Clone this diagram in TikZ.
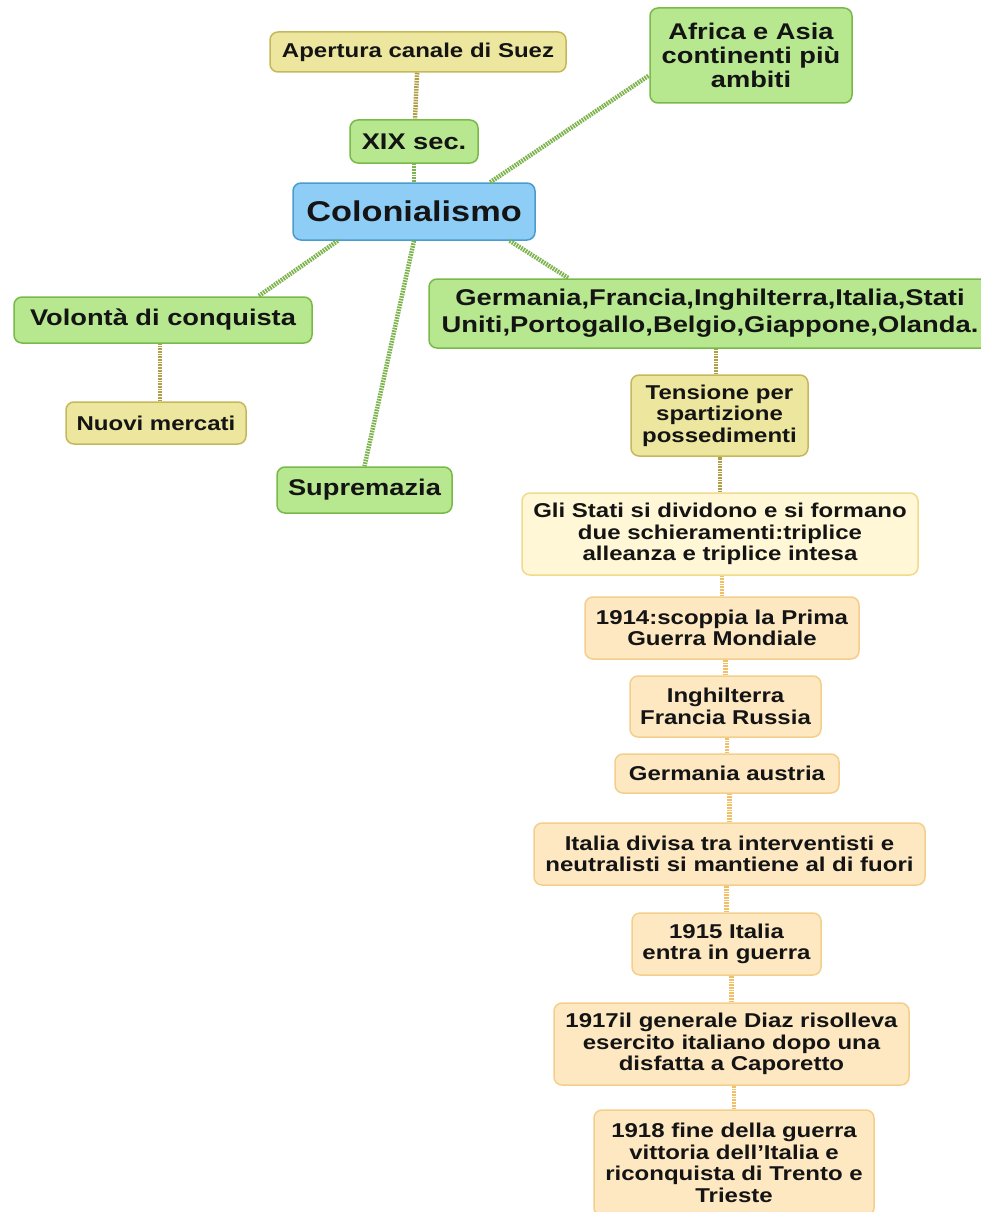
\documentclass[tikz,border=0pt]{standalone}
\usepackage{fontspec}
\setmainfont[FakeStretch=1.2]{Liberation Sans}
\definecolor{greenfill}{HTML}{B7E78E}
\definecolor{greenline}{HTML}{79B94A}
\definecolor{khakifill}{HTML}{ECE69F}
\definecolor{khakiline}{HTML}{C6B85A}
\definecolor{bluefill}{HTML}{8ECDF6}
\definecolor{blueline}{HTML}{4B9BCD}
\definecolor{creamfill}{HTML}{FFF7D6}
\definecolor{creamline}{HTML}{F0DA8C}
\definecolor{peachfill}{HTML}{FDE8C2}
\definecolor{peachline}{HTML}{F4CF8C}
\definecolor{greenlink}{HTML}{7DB34C}
\definecolor{khakilink}{HTML}{AE9E45}
\definecolor{peachlink}{HTML}{F0BF66}
\newcommand\mapfont[2]{\fontsize{#1}{#2}\selectfont\bfseries}

\begin{document}
\begin{tikzpicture}[x=1pt,y=-1pt,
    box/.style={rounded corners=8pt,line width=1.5pt,align=center,inner sep=0pt,text=black!92},
    greenbox/.style={box,fill=greenfill,draw=greenline},
    khakibox/.style={box,fill=khakifill,draw=khakiline},
    bluebox/.style={box,fill=bluefill,draw=blueline},
    creambox/.style={box,fill=creamfill,draw=creamline},
    peachbox/.style={box,fill=peachfill,draw=peachline},
    small/.style={font=\mapfont{20}{21.5}},
    big/.style={font=\mapfont{22.7}{24}},
    link/.style={line width=4.5pt,dash pattern=on 1.7pt off 1pt}]
  \useasboundingbox (0,0) rectangle (981,1212);

  % centre and branches
  \node[bluebox,font=\mapfont{28.6}{30},minimum width=242pt,minimum height=57pt] (colon) at (414,211.5) {Colonialismo};
  \node[greenbox,big,minimum width=128pt,minimum height=43pt] (xix) at (414,141.5) {XIX sec.};
  \node[khakibox,small,minimum width=296pt,minimum height=40pt] (suez) at (418,52) {Apertura canale di Suez};
  \node[greenbox,big,minimum width=202pt,minimum height=95pt] (africa) at (751,55.5) {Africa e Asia\\continenti più\\ambiti};
  \node[greenbox,big,minimum width=298pt,minimum height=46pt] (volonta) at (163,320) {Volontà di conquista};
  \node[khakibox,small,minimum width=180pt,minimum height=42pt] (nuovi) at (156,423) {Nuovi mercati};
  \node[greenbox,big,minimum width=175pt,minimum height=46pt] (suprem) at (364.5,490) {Supremazia};
  \node[greenbox,font=\mapfont{22.8}{27},minimum width=562pt,minimum height=69pt] (germ) at (710,313.5)
    {Germania,Francia,Inghilterra,Italia,Stati\\Uniti,Portogallo,Belgio,Giappone,Olanda.};
  \node[khakibox,small,minimum width=177pt,minimum height=81pt] (tens) at (719.5,415.5) {Tensione per\\spartizione\\possedimenti};
  \node[creambox,small,minimum width=396pt,minimum height=82pt] (stati) at (720,534)
    {Gli Stati si dividono e si formano\\due schieramenti:triplice\\alleanza e triplice intesa};

  % timeline
  \foreach \n/\x/\y/\w/\h/\t in {
      c1914/722/628/274/62/{1914:scoppia la Prima\\Guerra Mondiale},
      ingh/725.5/706.5/191/61/{Inghilterra\\Francia Russia},
      germaus/727/773.5/224/39/{Germania austria},
      divisa/729.5/854/391/62/{Italia divisa tra interventisti e\\neutralisti si mantiene al di fuori},
      c1915/726.5/944/189/62/{1915 Italia\\entra in guerra},
      c1917/731.5/1044/355/82/{1917il generale Diaz risolleva\\esercito italiano dopo una\\disfatta a Caporetto},
      c1918/734/1163/280/106/{1918 fine della guerra\\vittoria dell’Italia e\\riconquista di Trento e\\Trieste}} {
    \node[peachbox,small,minimum width=\w pt,minimum height=\h pt] (\n) at (\x,\y) {\t};
  }

  \draw[link,khakilink] (suez) -- (xix);
  \draw[link,greenlink] (xix) -- (colon);
  \draw[link,greenlink] (colon.21) -- (africa.191);
  \draw[link,greenlink] (colon.201) -- (volonta.14);
  \draw[link,greenlink] (colon.south) -- (suprem.north);
  \draw[link,greenlink] (colon.-17) -- (germ.166);
  \draw[link,khakilink] (nuovi.north -| 160,0) -- (volonta.south -| 160,0);
  \draw[link,khakilink] (tens.north -| 716,0) -- (germ.south -| 716,0);
  \draw[link,khakilink] (stati.north) -- (stati.north |- tens.south);
  \foreach \a/\b in {stati/c1914,c1914/ingh,ingh/germaus,germaus/divisa,divisa/c1915,c1915/c1917,c1917/c1918} {
    \draw[link,peachlink] (\b.north) -- (\b.north |- \a.south);
  }
\end{tikzpicture}
\end{document}
